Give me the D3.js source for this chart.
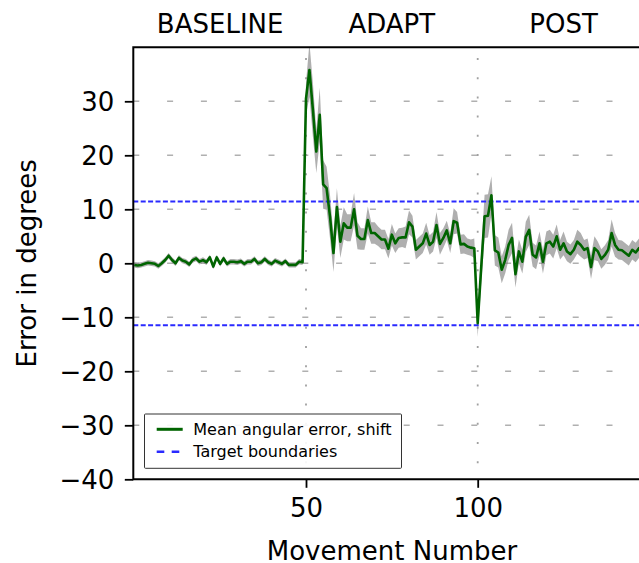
<!DOCTYPE html>
<html>
<head>
<meta charset="utf-8">
<script src="https://cdn.jsdelivr.net/npm/d3@7"></script>
<style>
  html, body { margin: 0; padding: 0; background: #fff; }
  svg { display: block; font-family: "DejaVu Sans", sans-serif; }
</style>
</head>
<body>
<svg id="chart" width="639" height="563"></svg>
<script>
// ---------------- DATA ----------------
const movement = [
  0,1,2,3,4,5,6,7,8,9,10,11,12,13,14,15,16,17,18,19,
  20,21,22,23,24,25,26,27,28,29,30,31,32,33,34,35,36,37,38,39,
  40,41,42,43,44,45,46,47,48,49,50,51,52,53,54,55,56,57,58,59,
  60,61,62,63,64,65,66,67,68,69,70,71,72,73,74,75,76,77,78,79,
  80,81,82,83,84,85,86,87,88,89,90,91,92,93,94,95,96,97,98,99,
  100,101,102,103,104,105,106,107,108,109,110,111,112,113,114,115,116,117,118,119,
  120,121,122,123,124,125,126,127,128,129,130,131,132,133,134,135,136,137,138,139,
  140,141,142,143,144,145,146,147,148,149
];
const meanError = [
  -0.3,-0.4,-0.3,-0.1,0.1,0.0,-0.1,-0.5,0.0,0.6,
  1.4,0.6,0.0,1.0,0.5,0.3,-0.2,0.6,0.9,0.3,
  0.6,0.2,1.1,-0.6,1.1,-0.1,0.9,-0.1,0.3,0.3,
  0.2,0.4,-0.1,0.3,0.3,0.8,0.0,0.2,0.8,0.2,
  -0.1,0.5,0.2,-0.1,0.4,-0.3,-0.3,-0.3,0.3,0.2,
  30.5,35.8,28.5,20.7,27.5,14.6,13.9,8.6,1.9,10.4,
  4.0,7.4,6.6,6.6,10.0,5.1,4.5,4.5,8.0,5.6,
  5.6,5.0,4.4,4.4,2.7,5.3,3.7,4.7,4.8,4.8,
  7.6,6.8,2.5,3.1,3.7,5.5,3.4,4.0,7.1,3.6,
  4.7,6.1,3.7,7.8,7.5,3.5,3.6,3.1,2.9,2.8,
  -11.1,-1.0,8.7,8.8,12.6,2.4,2.0,-1.2,0.6,3.4,
  4.7,-2.0,2.2,0.3,4.9,6.2,1.6,1.1,3.7,0.3,
  3.7,4.0,3.1,5.0,2.5,3.7,2.2,1.7,2.5,4.0,
  3.4,2.5,2.8,-0.7,2.8,2.2,0.8,1.5,2.5,5.6,
  3.4,2.5,2.4,1.9,1.4,2.5,2.0,2.8,2.5,3.0
];
const errorSem = [
  0.5,0.5,0.5,0.5,0.5,0.5,0.5,0.5,0.5,0.5,
  0.5,0.5,0.5,0.5,0.5,0.5,0.5,0.5,0.5,0.5,
  0.5,0.5,0.5,0.5,0.5,0.5,0.5,0.5,0.5,0.5,
  0.5,0.5,0.5,0.5,0.5,0.5,0.5,0.5,0.5,0.5,
  0.5,0.5,0.5,0.5,0.5,0.5,0.5,0.5,0.5,0.5,
  3.0,5.0,5.0,4.0,5.0,4.5,4.0,4.0,3.5,3.5,
  3.0,3.0,2.5,2.5,3.0,2.5,2.0,2.0,2.5,2.0,
  2.0,1.8,1.8,1.8,1.8,2.0,1.8,1.8,1.8,2.0,
  2.2,2.0,1.8,1.8,1.8,2.0,1.8,1.8,2.4,2.0,
  1.8,1.8,1.8,2.4,2.0,1.8,1.8,1.5,1.5,1.8,
  2.5,3.0,4.0,4.0,3.5,2.8,2.8,2.5,2.5,2.8,
  2.8,2.5,2.2,2.2,2.8,2.8,2.2,2.2,2.2,2.2,
  2.2,2.2,2.2,2.2,1.8,2.2,1.8,1.8,1.8,2.2,
  2.2,1.8,1.8,2.2,2.2,1.8,1.8,1.8,1.8,2.5,
  2.2,1.8,1.8,1.8,1.8,1.8,1.8,1.8,1.8,1.8
];
const targetBoundaries = [11.46, -11.46];
const phaseBoundaries = [50, 100];
const phaseLabels = ["BASELINE", "ADAPT", "POST"];
const phaseCenters = [25, 75, 125];
const yTicks = [-40, -30, -20, -10, 0, 10, 20, 30];
const yGridTicks = [-30, -20, -10, 0, 10, 20, 30];
const xTicks = [50, 100];
const legendLabels = ["Mean angular error, shift", "Target boundaries"];

// ---------------- LAYOUT ----------------
const svg = d3.select("#chart");
const plotLeft = 133.3, plotTop = 47.3, plotBottom = 479.3;
const FS = 26;
const x = d3.scaleLinear().domain([0, 150]).range([134.3, 649.4]);
const y = d3.scaleLinear().domain([-40, 40]).range([plotBottom, plotTop]);
const fmt = d => (d < 0 ? "\u2212" + Math.abs(d) : String(d));

svg.append("defs").append("clipPath").attr("id", "plotclip")
  .append("rect").attr("x", plotLeft).attr("y", plotTop)
  .attr("width", 639 - plotLeft).attr("height", plotBottom - plotTop);

// grid (horizontal dashed)
svg.append("g").selectAll("line").data(yGridTicks).join("line")
  .attr("x1", plotLeft).attr("x2", 650)
  .attr("y1", d => y(d)).attr("y2", d => y(d))
  .attr("stroke", "#b0b0b0").attr("stroke-width", 1.6)
  .attr("stroke-dasharray", "6,27.8");

// phase boundaries (dotted vertical)
svg.append("g").selectAll("line").data(phaseBoundaries).join("line")
  .attr("x1", d => x(d)).attr("x2", d => x(d))
  .attr("y1", 58).attr("y2", plotBottom)
  .attr("stroke", "#a0a0a0").attr("stroke-width", 1.8)
  .attr("stroke-dasharray", "2,17.2");

const plot = svg.append("g").attr("clip-path", "url(#plotclip)");
const rows = movement.map((m, i) => ({ m, v: meanError[i], s: errorSem[i] }));

plot.append("path").datum(rows)
  .attr("d", d3.area().x(d => x(d.m)).y0(d => y(d.v - d.s)).y1(d => y(d.v + d.s)))
  .attr("fill", "#7a7a7a").attr("fill-opacity", 0.6);

plot.append("g").selectAll("line").data(targetBoundaries).join("line")
  .attr("x1", plotLeft).attr("x2", 650)
  .attr("y1", d => y(d)).attr("y2", d => y(d))
  .attr("stroke", "#2a2aff").attr("stroke-width", 2)
  .attr("stroke-dasharray", "5,2.4");

plot.append("path").datum(rows)
  .attr("d", d3.line().x(d => x(d.m)).y(d => y(d.v)))
  .attr("fill", "none").attr("stroke", "#006400").attr("stroke-width", 2.6)
  .attr("stroke-linejoin", "round");

// axes
const yAxis = svg.append("g").attr("transform", `translate(${plotLeft},0)`)
  .call(d3.axisLeft(y).tickValues(yTicks).tickFormat(fmt).tickSize(8.5).tickPadding(10.5));
const xAxis = svg.append("g").attr("transform", `translate(0,${plotBottom})`)
  .call(d3.axisBottom(x).tickValues(xTicks).tickSize(8.5).tickPadding(10.5));
[yAxis, xAxis].forEach(g => {
  g.select(".domain").remove();
  g.selectAll(".tick line").attr("stroke", "#000").attr("stroke-width", 1.8);
  g.selectAll(".tick text").attr("font-size", FS).attr("fill", "#000")
    .attr("font-family", "DejaVu Sans, sans-serif");
});
yAxis.selectAll(".tick text").attr("dy", "0.36em");

// spines
svg.append("path")
  .attr("d", `M${plotLeft},${plotBottom}V${plotTop}M${plotLeft - 1},${plotTop}H650M${plotLeft - 1},${plotBottom}H650`)
  .attr("stroke", "#000").attr("stroke-width", 2).attr("fill", "none");

// phase titles
svg.append("g").selectAll("text").data(phaseLabels).join("text")
  .attr("x", (d, i) => x(phaseCenters[i])).attr("y", 32.7)
  .attr("text-anchor", "middle").attr("font-size", FS).text(d => d);

// axis labels
svg.append("text").attr("x", 392).attr("y", 560)
  .attr("text-anchor", "middle").attr("font-size", FS).text("Movement Number");
svg.append("text").attr("transform", "translate(35.5,263.3) rotate(-90)")
  .attr("text-anchor", "middle").attr("font-size", FS).text("Error in degrees");

// legend
const lg = svg.append("g");
lg.append("rect").attr("x", 144.5).attr("y", 414).attr("width", 257).attr("height", 54.3)
  .attr("fill", "#fff").attr("fill-opacity", 0.9).attr("stroke", "#333").attr("stroke-width", 1).attr("rx", 1);
lg.append("line").attr("x1", 156.7).attr("x2", 182.7).attr("y1", 429.3).attr("y2", 429.3)
  .attr("stroke", "#006400").attr("stroke-width", 3);
lg.append("line").attr("x1", 156.7).attr("x2", 182.7).attr("y1", 451.7).attr("y2", 451.7)
  .attr("stroke", "#2a2aff").attr("stroke-width", 2.5).attr("stroke-dasharray", "7.6,7.4");
lg.selectAll("text.lt").data(legendLabels).join("text").attr("class", "lt")
  .attr("x", 193.3).attr("y", (d, i) => 429.3 + i * 22.4).attr("dy", "0.36em")
  .attr("font-size", 16).text(d => d);
</script>
</body>
</html>
